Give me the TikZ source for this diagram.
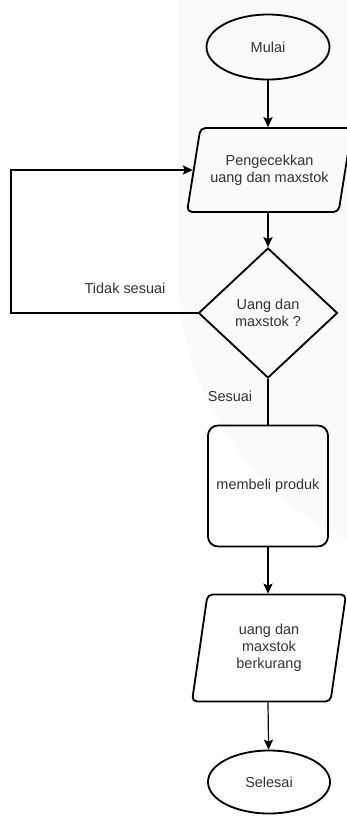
\documentclass[tikz,border=0pt]{standalone}
\usepackage{fontspec}
\setmainfont{Liberation Sans}
\usetikzlibrary{shapes.geometric,arrows.meta}

\begin{document}
\begin{tikzpicture}[
		font=\fontsize{20.6}{24.2}\selectfont,
		garis/.style={line width=1.7pt, -{Stealth[length=0.5cm, width=0.46cm, inset=0.1cm]}},
		bentuk/.style={draw, line width=2.6pt, text=black!80, align=center, inner sep=0},
		terminal/.style={bentuk, ellipse},
		jajar/.style={bentuk, trapezium, trapezium stretches body, rounded corners=0.25cm},
		keputusan/.style={bentuk, diamond},
		proses/.style={bentuk, rectangle, rounded corners=0.5cm},
		label/.style={text=black!80}
	]
		\useasboundingbox (0, 0) rectangle (17.35, -40.8);
		\fill[gray!4] (8.9, 0) -- (8.9, -13.6) arc[start angle=180, end angle=244.5, radius=14.85] -- (17.35, 0) -- cycle;
		
		\node[terminal, minimum width=6.15cm, minimum height=3.25cm] (mulai) at (13.4, -2.35) {Mulai};
		\node[jajar, trapezium left angle=66.2, trapezium right angle=113.8, minimum width=8.25cm, minimum height=4.2cm] (cek) at (13.475, -8.5) {Pengecekkan\\uang dan maxstok};
		\node[keputusan, minimum width=6.95cm, minimum height=6.5cm] (pilih) at (13.4, -15.65) {Uang dan\\maxstok ?};
		\node[proses, minimum width=6cm, minimum height=6.05cm] (beli) at (13.4, -24.3) {membeli produk};
		\node[jajar, trapezium left angle=71.9, trapezium right angle=108.1, minimum width=7.7cm, minimum height=5.35cm] (kurang) at (13.45, -32.4) {uang dan\\maxstok\\berkurang};
		\node[terminal, minimum width=6.1cm, minimum height=3.15cm] (selesai) at (13.45, -39.1) {Selesai};
		\coordinate (kiri) at (0.55, -15.65);
		
		\draw[garis] (mulai) -- (mulai |- cek.north);
		\draw[garis] (pilih |- cek.south) -- (pilih);
		\draw[garis] (pilih.west) -- (kiri) |- (cek);
		\draw[line width=1.7pt] (pilih) -- (beli);
		\draw[garis] (beli) -- (beli |- kurang.north);
		\draw[garis] (beli |- kurang.south) -- (selesai);
		
		\node[label] (tidak) at (6.25, -14.4) {Tidak sesuai};
		\node[label] (sesuai) at (11.5, -19.8) {Sesuai};
	\end{tikzpicture}
\end{document}
